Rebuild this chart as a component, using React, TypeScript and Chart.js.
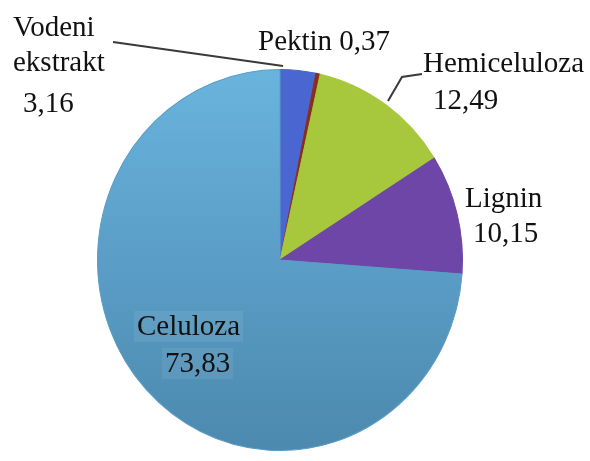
import React, { useEffect, useRef } from "react";
import { Chart, registerables } from "chart.js";

Chart.register(...registerables);

const categories = ["Vodeni ekstrakt", "Pektin", "Hemiceluloza", "Lignin", "Celuloza"];
const values = [3.16, 0.37, 12.49, 10.15, 73.83];
const sliceColors = ["#4a66d0", "#8a2e1c", "#a7c83c", "#6e46a8", "#5a9fc9"];

const fmt = (v: number) => v.toFixed(2).replace(".", ",");

// label layout (pixel positions of text lines, not data)
const labelLayout = [
  { pos: [[13, 36], [13, 71], [23, 112]], split: true, leader: [[113, 42], [283, 66]] },
  { pos: [[258, 50]], inline: true },
  { pos: [[423, 72], [433, 109]], leader: [[388, 101], [402, 77], [422, 74]] },
  { pos: [[465, 207], [473, 242]] },
  { pos: [[137, 335], [165, 372]], highlight: true },
];

const ellipsePlugin = {
  id: "ellipse",
  beforeDatasetsDraw(chart: any) {
    const a = chart.getDatasetMeta(0).data[0];
    const ctx = chart.ctx;
    ctx.save();
    ctx.translate(a.x, a.y);
    ctx.scale(1, 1.044);
    ctx.translate(-a.x, -a.y);
  },
  afterDatasetsDraw(chart: any) {
    chart.ctx.restore();
  },
};

const labelPlugin = {
  id: "labels",
  afterDraw(chart: any) {
    const ctx = chart.ctx;
    ctx.save();
    ctx.font = '29px "Liberation Serif", "Times New Roman", serif';
    ctx.textBaseline = "alphabetic";
    ctx.textAlign = "left";
    categories.forEach((cat, i) => {
      const lay: any = labelLayout[i];
      let lines: string[];
      if (lay.split) lines = [...cat.split(" "), fmt(values[i])];
      else if (lay.inline) lines = [cat + " " + fmt(values[i])];
      else lines = [cat, fmt(values[i])];
      if (lay.leader) {
        ctx.strokeStyle = "#3a3a3a";
        ctx.lineWidth = 2;
        ctx.beginPath();
        lay.leader.forEach((p: number[], k: number) => (k === 0 ? ctx.moveTo(p[0], p[1]) : ctx.lineTo(p[0], p[1])));
        ctx.stroke();
      }
      lines.forEach((t, k) => {
        const [x, y] = lay.pos[k];
        if (lay.highlight) {
          const w = ctx.measureText(t).width;
          ctx.fillStyle = "rgba(255,255,255,0.07)";
          ctx.fillRect(x - 3, y - 24, w + 6, 31);
        }
        ctx.fillStyle = "#111111";
        ctx.fillText(t, x, y);
      });
    });
    ctx.restore();
  },
};

export default function App() {
  const ref = useRef<HTMLCanvasElement | null>(null);
  useEffect(() => {
    if (!ref.current) return;
    const chart = new Chart(ref.current, {
      type: "pie",
      data: {
        labels: categories,
        datasets: [
          {
            data: values,
            backgroundColor: (c: any) => {
              const i = c.dataIndex;
              if (i !== 4) return sliceColors[i];
              const { ctx, chartArea } = c.chart;
              if (!chartArea) return sliceColors[i];
              const g = ctx.createLinearGradient(0, chartArea.top, 0, chartArea.bottom + 10);
              g.addColorStop(0, "#69b4de");
              g.addColorStop(0.5, "#5a9dc6");
              g.addColorStop(1, "#4b88ac");
              return g;
            },
            borderColor: (c: any) => (c.dataIndex === 4 ? "#5a9dc6" : sliceColors[c.dataIndex]),
            borderWidth: 1,
          },
        ],
      },
      options: {
        responsive: false,
        animation: false,
        layout: { padding: { left: 97, right: 127, top: 77, bottom: 18 } },
        plugins: { legend: { display: false }, tooltip: { enabled: false } },
      },
      plugins: [ellipsePlugin, labelPlugin],
    });
    return () => chart.destroy();
  }, []);
  return (
    <div style={{ position: "fixed", left: 0, top: 0, width: 590, height: 461, background: "#fff" }}>
      <canvas ref={ref} width={590} height={461} />
    </div>
  );
}
